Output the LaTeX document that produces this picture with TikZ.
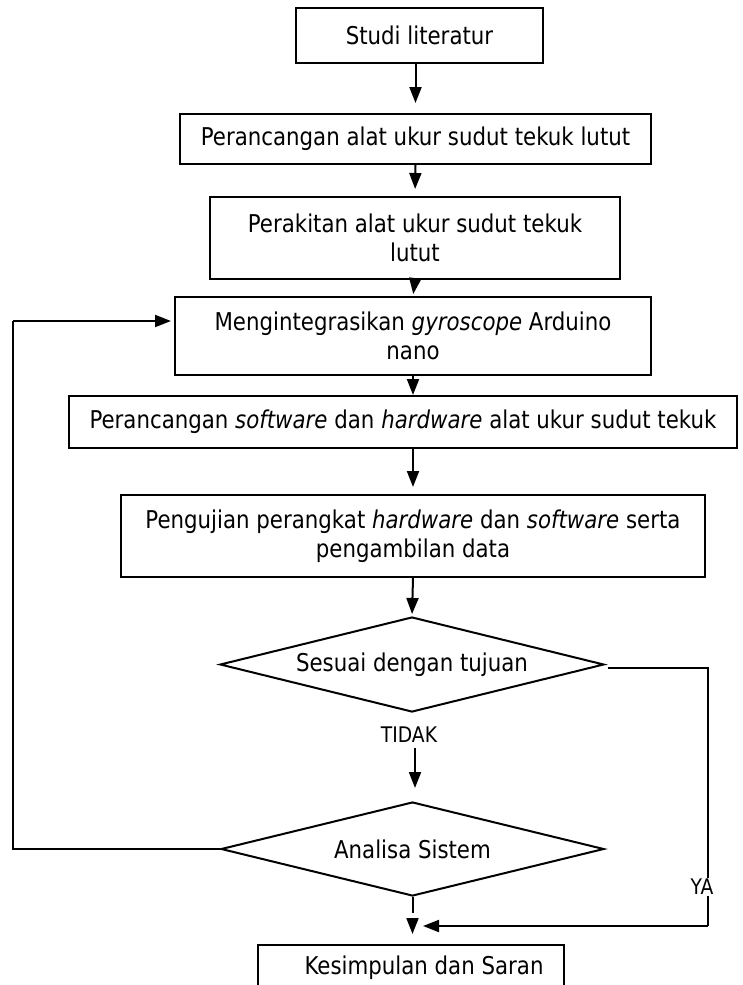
\documentclass[tikz,border=0pt]{standalone}
\usepackage{fontspec}
\setmainfont{DejaVu Sans}[FakeStretch=0.87]
\usetikzlibrary{shapes.geometric,arrows.meta}
\begin{document}
\begin{tikzpicture}[x=1pt,y=-1pt,
  every node/.style={font=\fontsize{24.5}{29}\selectfont},
  stepbox/.style={draw,line width=2pt,inner sep=0pt,align=center},
  decision/.style={draw,diamond,line width=2pt,inner sep=0pt,align=center},
  link/.style={line width=2pt},
  arr/.style={line width=2pt,-{Triangle[length=16pt,width=12pt]}},
  tag/.style={font=\fontsize{21.5}{24}\selectfont,inner sep=1pt}]
\useasboundingbox[fill=white] (0,0) rectangle (742,985);

% process steps
\node[stepbox,minimum width=247pt,minimum height=55pt] (b1) at (419.5,35.5) {Studi literatur};
\node[stepbox,minimum width=471pt,minimum height=50pt] (b2) at (415.5,139) {Perancangan alat ukur sudut tekuk lutut};
\node[stepbox,minimum width=410pt,minimum height=82pt] (b3) at (415,238) {Perakitan alat ukur sudut tekuk\\lutut};
\node[stepbox,minimum width=476pt,minimum height=78pt] (b4) at (413,336) {Mengintegrasikan \textit{gyroscope} Arduino\\nano};
\node[stepbox,minimum width=668pt,minimum height=52pt] (b5) at (403,422) {Perancangan \textit{software} dan \textit{hardware} alat ukur sudut tekuk};
\node[stepbox,minimum width=584pt,minimum height=82pt] (b6) at (413,536) {Pengujian perangkat \textit{hardware} dan \textit{software} serta\\pengambilan data};

% decisions
\node[decision,shape aspect=4.04,minimum width=384pt,minimum height=95pt] (d1) at (412,664.5) {Sesuai dengan tujuan};
\node[decision,shape aspect=4.04,minimum width=383pt,minimum height=94pt] (d2) at (412.5,849) {Analisa Sistem};

% final step
\node[stepbox,minimum width=306pt,minimum height=46pt] (b7) at (411,968) {\hspace*{26pt}Kesimpulan dan Saran};

% branch labels
\node[tag] (tidak) at (409,735) {TIDAK};

% main flow
\draw[arr,shorten >=10pt] (b1.south -| b2.north) -- (b2.north);
\draw[arr,shorten >=7pt] (b2.south) -- (b3.north);
\draw[arr,shorten >=2pt] (b3.south) -- (b4.north);
\draw[arr] (b4.south) -- (b5.north -| b4.south);
\draw[arr,shorten >=7pt] (b5.south -| b4.south) -- (b6.north);
\draw[arr,shorten >=2pt] (b6.south) -- (d1.north);
\coordinate (tA) at (415,748);
\draw[arr,shorten >=13pt] (tA) -- (tA |- d2.north);

% loop back from the analysis
\coordinate (loopT) at (13,321);
\coordinate (loopE) at (171,321);
\draw[link] (d2.west) -- (d2.west -| loopT) -- (loopT);
\draw[arr] (loopT) -- (loopE);

% merge into the conclusion
\coordinate (mA) at (412.5,913);
\coordinate (mB) at (412.5,918);
\coordinate (mC) at (412.5,934);
\draw[link] (d2.south) -- (mA);
\draw[arr] (mB) -- (mC);

% YA branch
\coordinate (yaS) at (608,668);
\coordinate (yaR) at (708,668);
\coordinate (yaD) at (708,926);
\coordinate (yaE) at (423,926);
\draw[link] (yaS) -- (yaR) -- (yaD);
\node[tag,fill=white] (ya) at (702,887) {YA};
\draw[arr] (yaD) -- (yaE);
\end{tikzpicture}
\end{document}
